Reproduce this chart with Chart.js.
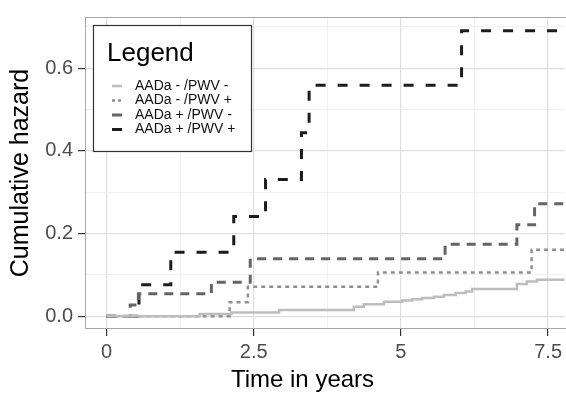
<!DOCTYPE html>
<html>
<head>
<meta charset="utf-8">
<script src="https://cdn.jsdelivr.net/npm/chart.js@4.4.1/dist/chart.umd.min.js"></script>
<style>
  html, body { margin: 0; padding: 0; background: #fff; }
</style>
</head>
<body>
<canvas id="hazardChart" width="566" height="398"></canvas>
<script>
// group names
const groupLabels = ['AADa - /PWV -', 'AADa - /PWV +', 'AADa + /PWV -', 'AADa + /PWV +'];

// cumulative hazard steps (time in years, value after the step)
const timesNegNeg = [0, 1.58, 2.12, 2.93, 4.20, 4.37, 4.71, 5.02, 5.19, 5.36, 5.56, 5.73, 5.93, 6.10, 6.21, 6.97, 7.14, 7.31, 7.90];
const hazardNegNeg = [0, 0.005, 0.009, 0.015, 0.023, 0.029, 0.035, 0.038, 0.041, 0.044, 0.047, 0.051, 0.056, 0.060, 0.066, 0.078, 0.084, 0.088, 0.088];

const timesNegPos = [0, 2.09, 2.40, 4.61, 7.22, 7.90];
const hazardNegPos = [0, 0.034, 0.071, 0.106, 0.161, 0.161];

const timesPosNeg = [0, 0.40, 0.54, 1.78, 2.44, 5.75, 6.97, 7.27, 7.90];
const hazardPosNeg = [0, 0.027, 0.054, 0.082, 0.139, 0.174, 0.221, 0.272, 0.272];

const timesPosPos = [0, 0.55, 1.09, 2.16, 2.70, 3.31, 3.44, 6.03, 7.90];
const hazardPosPos = [0, 0.076, 0.155, 0.241, 0.331, 0.444, 0.559, 0.691, 0.691];

// axes
const xMajorTicks = [0, 2.5, 5, 7.5];
const xMajorLabels = ['0', '2.5', '5', '7.5'];
const xMinorTicks = [1.25, 3.75, 6.25];
const yMajorTicks = [0, 0.2, 0.4, 0.6];
const yMajorLabels = ['0.0', '0.2', '0.4', '0.6'];
const yMinorTicks = [0.1, 0.3, 0.5, 0.7];

function toPoints(times, values) {
    return times.map((t, i) => ({ x: t, y: values[i] }));
}

function allTicks(major, minor) {
    return major.concat(minor).sort((a, b) => a - b).map(v => ({ value: v }));
}

const fontFamily = '"Liberation Sans", Arial, sans-serif';

// panel border, legend box and x title
const panelDecor = {
    id: 'panelDecor',
    afterDatasetsDraw(chart) {
        const ctx = chart.ctx;
        const a = chart.chartArea;
        ctx.save();
        ctx.strokeStyle = '#a6a6a6';
        ctx.lineWidth = 1;
        ctx.strokeRect(a.left + 0.5, a.top + 0.5, a.right - a.left + 5, a.bottom - a.top - 1);

        // legend
        const bx = 93.5, by = 25.5, bw = 158, bh = 126;
        ctx.fillStyle = '#fff';
        ctx.fillRect(bx, by, bw, bh);
        ctx.strokeStyle = '#333';
        ctx.lineWidth = 1.2;
        ctx.strokeRect(bx, by, bw, bh);

        ctx.fillStyle = '#000';
        ctx.font = '26px ' + fontFamily;
        ctx.textAlign = 'left';
        ctx.textBaseline = 'alphabetic';
        ctx.fillText('Legend', 107, 61);

        ctx.font = '14px ' + fontFamily;
        ctx.textBaseline = 'middle';
        chart.data.datasets.forEach((ds, i) => {
            const y = 86 + i * 14.5;
            ctx.strokeStyle = ds.borderColor;
            ctx.lineWidth = ds.borderWidth;
            ctx.setLineDash(i === 1 ? [3, 3] : []);
            ctx.beginPath();
            ctx.moveTo(112, y);
            ctx.lineTo(122, y);
            ctx.stroke();
            ctx.setLineDash([]);
            ctx.fillStyle = '#111';
            ctx.fillText(ds.label, 135, y);
        });

        // x axis title
        ctx.fillStyle = '#000';
        ctx.font = '24px ' + fontFamily;
        ctx.textAlign = 'center';
        ctx.textBaseline = 'alphabetic';
        ctx.fillText('Time in years', 302.5, 386.5);
        ctx.restore();
    }
};

const ctx = document.getElementById('hazardChart').getContext('2d');
new Chart(ctx, {
    type: 'line',
    data: {
        datasets: [{
            label: groupLabels[0],
            data: toPoints(timesNegNeg, hazardNegNeg),
            borderColor: '#bdbdbd',
            borderWidth: 2.5
        }, {
            label: groupLabels[1],
            data: toPoints(timesNegPos, hazardNegPos),
            borderColor: '#8f8f8f',
            borderWidth: 2.5,
            borderDash: [4, 4]
        }, {
            label: groupLabels[2],
            data: toPoints(timesPosNeg, hazardPosNeg),
            borderColor: '#656565',
            borderWidth: 3,
            borderDash: [9, 7]
        }, {
            label: groupLabels[3],
            data: toPoints(timesPosPos, hazardPosPos),
            borderColor: '#1c1c1c',
            borderWidth: 3,
            borderDash: [10, 12]
        }]
    },
    options: {
        responsive: false,
        animation: false,
        layout: { padding: { left: 0, top: 8, right: 0, bottom: 0 } },
        elements: {
            point: { radius: 0 },
            line: { stepped: true, fill: false, borderCapStyle: 'butt' }
        },
        plugins: {
            legend: { display: false },
            tooltip: { enabled: false }
        },
        scales: {
            x: {
                type: 'linear',
                min: -0.367,
                max: 7.78,
                afterBuildTicks: s => { s.ticks = allTicks(xMajorTicks, xMinorTicks); },
                afterFit: s => { s.height = 69; },
                border: { display: false },
                grid: {
                    color: c => xMajorTicks.includes(c.tick.value) ? '#dedede' : '#eeeeee',
                    lineWidth: c => xMajorTicks.includes(c.tick.value) ? 1.2 : 0.8,
                    tickColor: c => xMajorTicks.includes(c.tick.value) ? '#333' : 'rgba(0,0,0,0)',
                    tickLength: 7
                },
                ticks: {
                    autoSkip: false,
                    maxRotation: 0,
                    padding: 4,
                    color: '#4d4d4d',
                    font: { family: fontFamily, size: 20 },
                    callback: v => {
                        const i = xMajorTicks.indexOf(v);
                        return i >= 0 ? xMajorLabels[i] : '';
                    }
                }
            },
            y: {
                type: 'linear',
                min: -0.031,
                max: 0.724,
                afterBuildTicks: s => { s.ticks = allTicks(yMajorTicks, yMinorTicks); },
                afterFit: s => { s.width = 85; },
                border: { display: false },
                grid: {
                    color: c => yMajorTicks.includes(c.tick.value) ? '#dedede' : '#eeeeee',
                    lineWidth: c => yMajorTicks.includes(c.tick.value) ? 1.2 : 0.8,
                    tickColor: c => yMajorTicks.includes(c.tick.value) ? '#333' : 'rgba(0,0,0,0)',
                    tickLength: 7
                },
                ticks: {
                    autoSkip: false,
                    padding: 5,
                    color: '#4d4d4d',
                    font: { family: fontFamily, size: 20 },
                    callback: v => {
                        const i = yMajorTicks.indexOf(v);
                        return i >= 0 ? yMajorLabels[i] : '';
                    }
                },
                title: {
                    display: true,
                    text: 'Cumulative hazard',
                    color: '#000',
                    font: { family: fontFamily, size: 25 },
                    padding: { top: 6, bottom: 0 }
                }
            }
        }
    },
    plugins: [panelDecor]
});
</script>
</body>
</html>
